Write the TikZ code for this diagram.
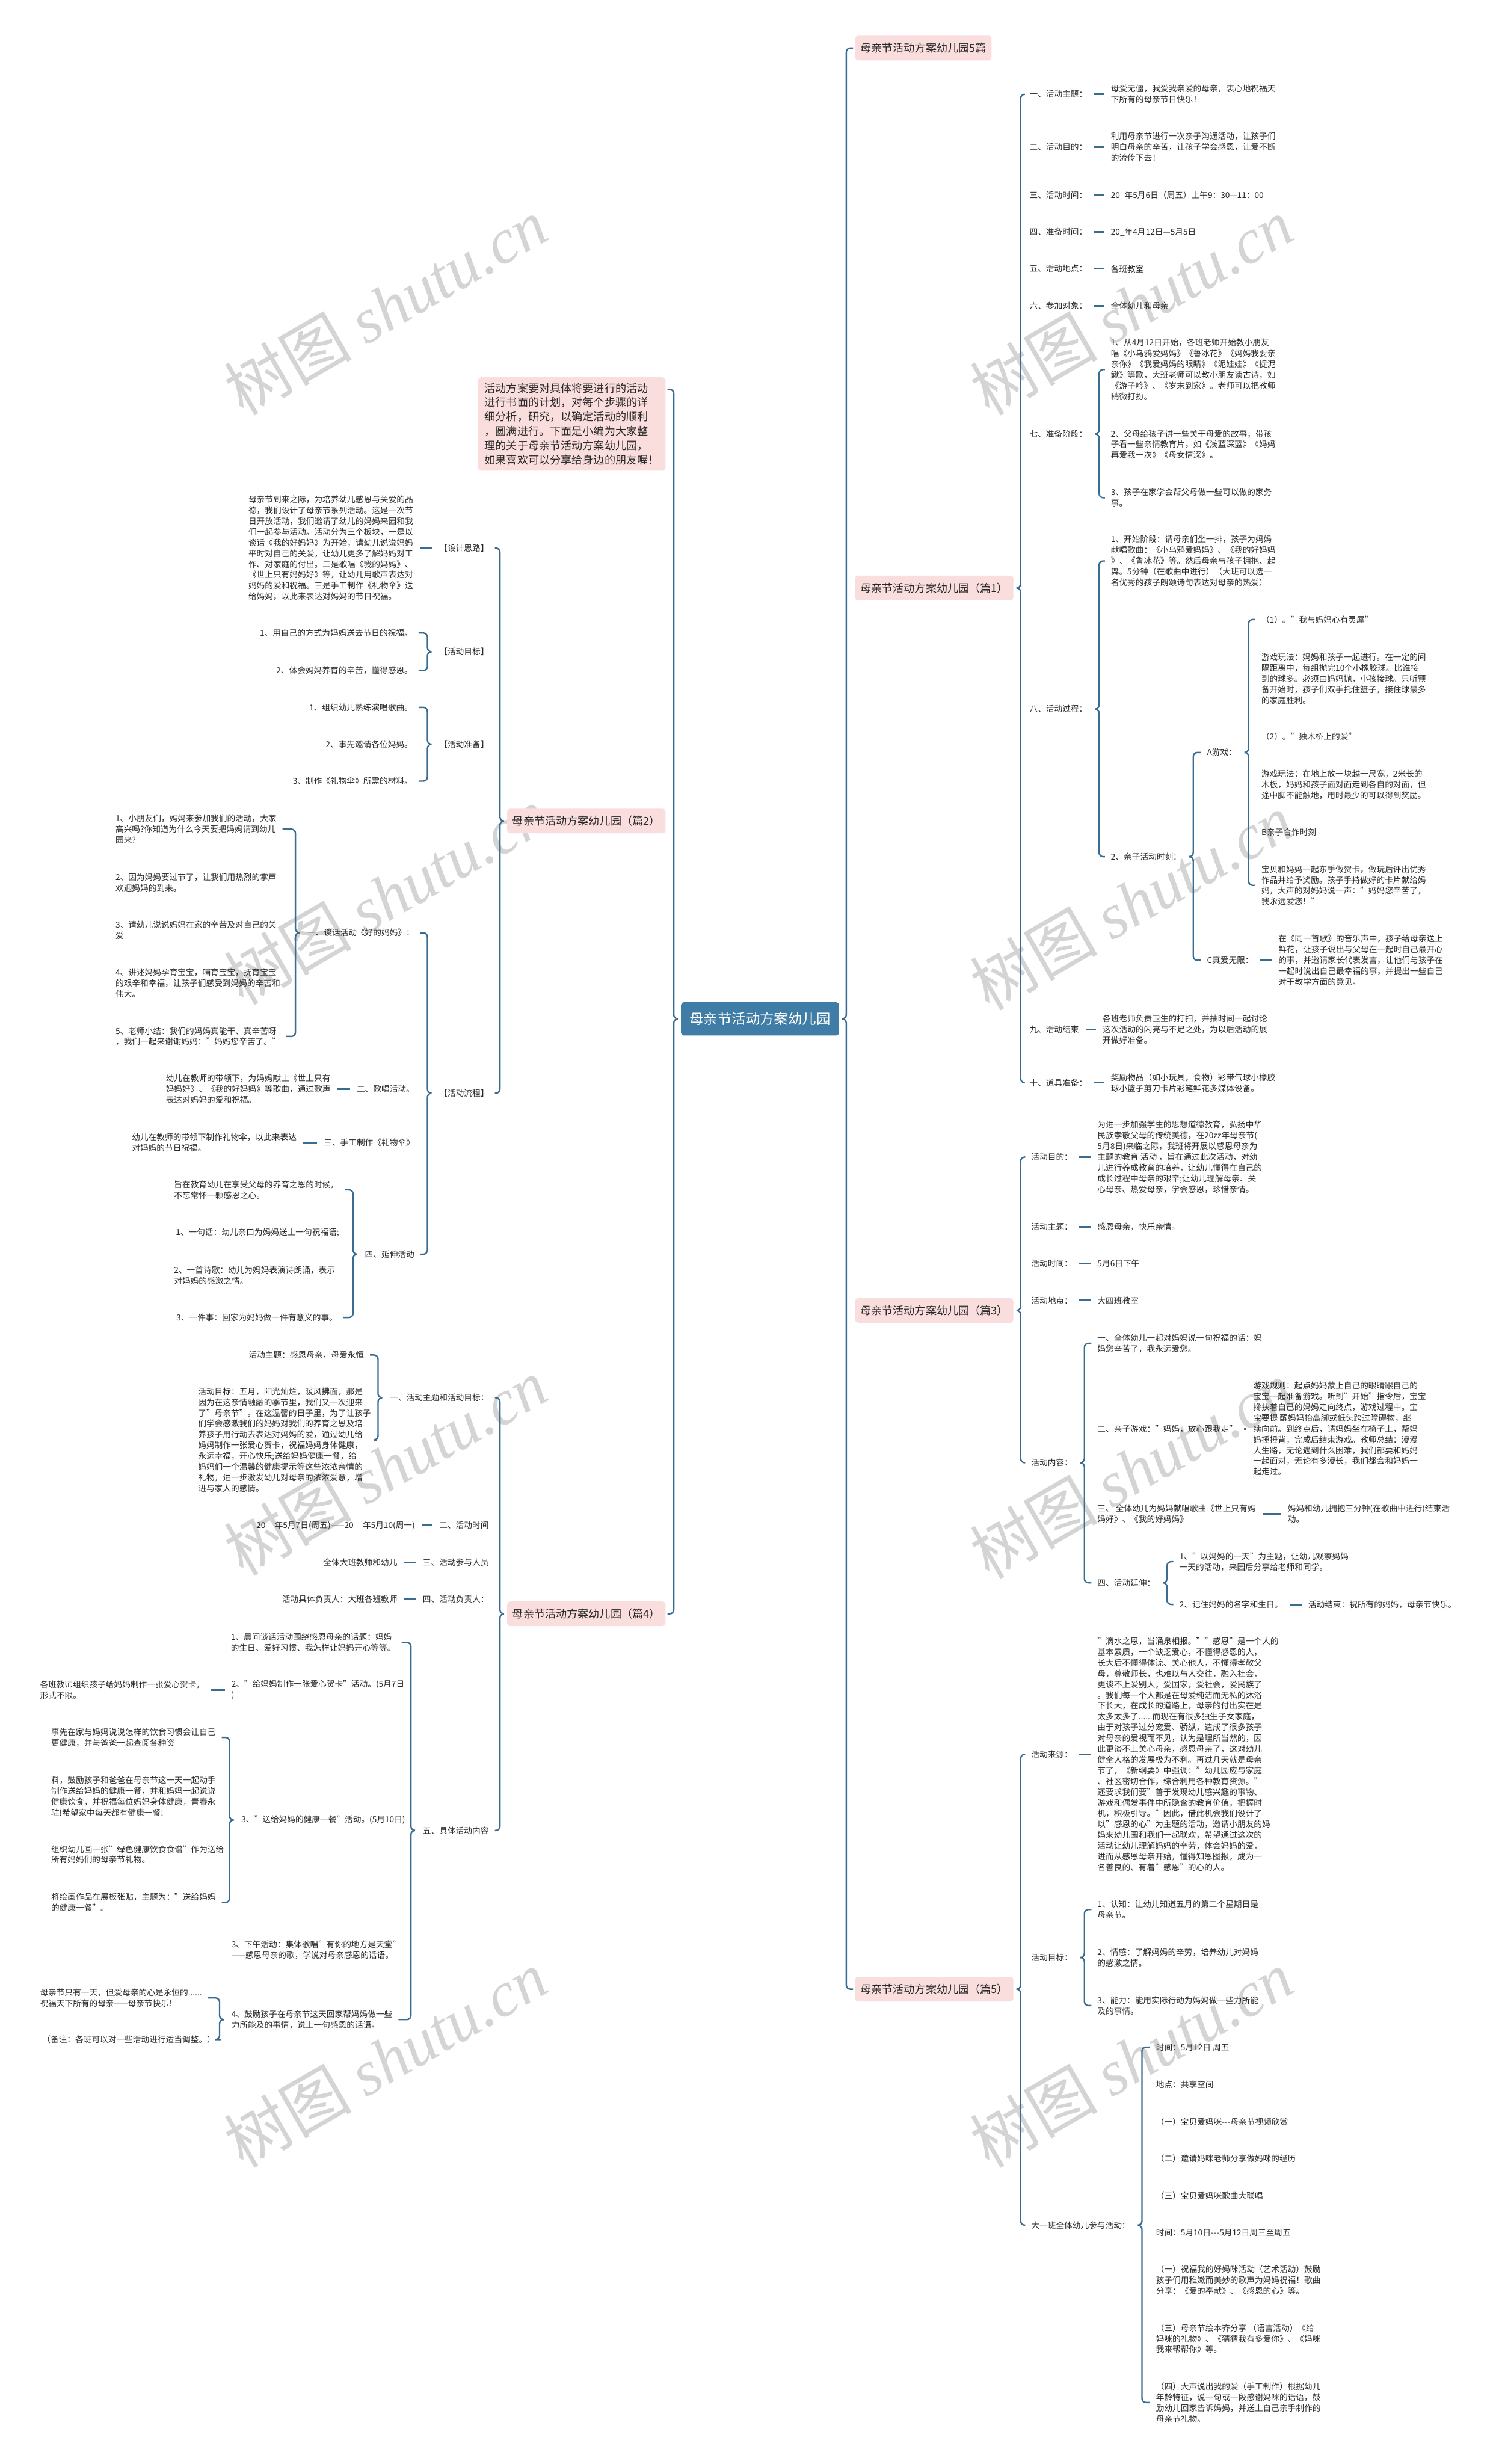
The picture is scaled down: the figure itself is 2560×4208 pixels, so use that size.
\documentclass[tikz,border=0pt]{standalone}
\usepackage{fontspec}
\setmainfont{Noto Sans CJK SC}
\newfontfamily\wmfont{Liberation Serif}
\usetikzlibrary{calc}
\definecolor{linec}{RGB}{56,108,145}
\definecolor{rootc}{RGB}{63,124,166}
\definecolor{pinkc}{RGB}{250,221,221}
\definecolor{textc}{RGB}{40,40,40}
\tikzset{
  forkgap/.store in=\fgap, forkgap=20,
  fork/.style={draw=linec, line width=1.4pt, rounded corners=0.14cm, shorten <=0.2cm, forkgap=20},
  boxfork/.style={fork, forkgap=12},
  rootfork/.style={fork, forkgap=12, shorten <=0.06cm},
  dashl/.style={draw=linec, line width=1.7pt, shorten <=0.22cm, shorten >=0.22cm},
  txt/.style={inner sep=0pt, align=left, text=textc, font=\fontsize{8}{10.47}\selectfont},
  rt/.style={txt, anchor=west},
  lt/.style={txt, anchor=east},
  lvl/.style={fill=pinkc, text=textc, rounded corners=0.1cm, inner xsep=0.18cm, inner ysep=0pt,
    minimum height=0.84cm, font=\fontsize{10.6}{13.9}\selectfont},
  root/.style={fill=rootc, text=white, rounded corners=0.1cm, inner sep=0pt, minimum width=5.4cm,
    minimum height=1.14cm, font=\fontsize{13.7}{16}\selectfont},
  intro/.style={fill=pinkc, text=textc, rounded corners=0.1cm, inner xsep=0.22cm, inner ysep=0.2cm,
    align=left, anchor=east, font=\fontsize{10.6}{13.9}\selectfont},
  wm/.style={text=black!17, rotate=30, inner sep=0pt, font=\fontsize{62}{62}\selectfont}
}
% brace from a parent to its first and last child
\newcommand{\forkR}[4][fork]{%
  \draw[#1] (#3.west) -| ($(#2.east)+(\fgap,0)$) -- ($(#2.east)+(\fgap-7,0)$);
  \draw[#1] (#4.west) -| ($(#2.east)+(\fgap,0)$) -- ($(#2.east)+(\fgap-7,0)$);
}
\newcommand{\forkL}[4][fork]{%
  \draw[#1] (#3.east) -| ($(#2.west)+(-\fgap,0)$) -- ($(#2.west)+(7-\fgap,0)$);
  \draw[#1] (#4.east) -| ($(#2.west)+(-\fgap,0)$) -- ($(#2.west)+(7-\fgap,0)$);
}
\begin{document}
\begin{tikzpicture}[x=0.02cm,y=-0.02cm]
\fill[white] (0,0) rectangle (2560,4208);
\useasboundingbox (0,0) rectangle (2560,4208);

% watermarks
\foreach \wx/\wy [count=\i] in {658/523,1932/523,658/1530,1932/1540,658/2505,1932/2510,658/3516,1932/3516}
  \node[wm] (wm\i) at (\wx,\wy) {树图 {\wmfont\itshape shutu.cn}};

% centre
\node[root] (root) at (1298,1740) {母亲节活动方案幼儿园};

% right branches
\node[lvl, anchor=west] (r0) at (1460,82) {母亲节活动方案幼儿园5篇};
\node[lvl, anchor=west] (r1) at (1460,1004) {母亲节活动方案幼儿园（篇1）};
\node[lvl, anchor=west] (r3) at (1460,2238) {母亲节活动方案幼儿园（篇3）};
\node[lvl, anchor=west] (r5) at (1460,3397) {母亲节活动方案幼儿园（篇5）};

% left branches
\node[intro] (intro) at (1137,724) {活动方案要对具体将要进行的活动\\进行书面的计划，对每个步骤的详\\细分析，研究，以确定活动的顺利\\，圆满进行。下面是小编为大家整\\理的关于母亲节活动方案幼儿园，\\如果喜欢可以分享给身边的朋友喔！};
\coordinate (introhk) at ($(intro.north east)+(0,21)$);
\node[lvl, anchor=east] (l2) at (1137,1402) {母亲节活动方案幼儿园（篇2）};
\node[lvl, anchor=east] (l4) at (1137,2756) {母亲节活动方案幼儿园（篇4）};

% ---- 篇1
\node[rt] (a1) at (1758,161) {一、活动主题：};
\node[rt] (a1t) at (1897,161) {母爱无僵，我爱我亲爱的母亲，衷心地祝福天\\下所有的母亲节日快乐！};
\node[rt] (a2) at (1758,251) {二、活动目的：};
\node[rt] (a2t) at (1897,251) {利用母亲节进行一次亲子沟通活动，让孩子们\\明白母亲的辛苦，让孩子学会感恩，让爱不断\\的流传下去！};
\node[rt] (a3) at (1758,333) {三、活动时间：};
\node[rt] (a3t) at (1897,333) {20\_年5月6日（周五）上午9：30—11：00};
\node[rt] (a4) at (1758,396) {四、准备时间：};
\node[rt] (a4t) at (1897,396) {20\_年4月12日—5月5日};
\node[rt] (a5) at (1758,459) {五、活动地点：};
\node[rt] (a5t) at (1897,459) {各班教室};
\node[rt] (a6) at (1758,522) {六、参加对象：};
\node[rt] (a6t) at (1897,522) {全体幼儿和母亲};
\node[rt] (a7) at (1758,741) {七、准备阶段：};
\node[rt] (a7a) at (1897,631) {1、从4月12日开始，各班老师开始教小朋友\\唱《小乌鸦爱妈妈》《鲁冰花》《妈妈我要亲\\亲你》《我爱妈妈的眼睛》《泥娃娃》《捉泥\\鳅》等歌，大班老师可以教小朋友读古诗，如\\《游子吟》、《岁末到家》。老师可以把教师\\稍微打扮。};
\node[rt] (a7b) at (1897,759) {2、父母给孩子讲一些关于母爱的故事，带孩\\子看一些亲情教育片，如《浅蓝深蓝》《妈妈\\再爱我一次》《母女情深》。};
\node[rt] (a7c) at (1897,850) {3、孩子在家学会帮父母做一些可以做的家务\\事。};
\node[rt] (a8) at (1758,1211) {八、活动过程：};
\node[rt] (a8a) at (1897,958) {1、开始阶段：请母亲们坐一排，孩子为妈妈\\献唱歌曲：《小乌鸦爱妈妈》、《我的好妈妈\\》、《鲁冰花》等。然后母亲与孩子拥抱、起\\舞。5分钟（在歌曲中进行）（大班可以选一\\名优秀的孩子朗颂诗句表达对母亲的热爱）};
\node[rt] (a8b) at (1897,1463) {2、亲子活动时刻：};
\node[rt] (ga) at (2061,1285) {A游戏：};
\node[rt] (g1) at (2154,1058) {（1）。"我与妈妈心有灵犀"};
\node[rt] (g2) at (2154,1159) {游戏玩法：妈妈和孩子一起进行。在一定的间\\隔距离中，每组抛完10个小橡胶球。比谁接\\到的球多。必须由妈妈抛，小孩接球。只听预\\备开始时，孩子们双手托住篮子，接住球最多\\的家庭胜利。};
\node[rt] (g3) at (2154,1258) {（2）。"独木桥上的爱"};
\node[rt] (g4) at (2154,1340) {游戏玩法：在地上放一块越一尺宽，2米长的\\木板，妈妈和孩子面对面走到各自的对面，但\\途中脚不能触地，用时最少的可以得到奖励。};
\node[rt] (g5) at (2154,1421) {B亲子合作时刻};
\node[rt] (g6) at (2154,1512) {宝贝和妈妈一起东手做贺卡，做玩后评出优秀\\作品并给予奖励。孩子手持做好的卡片献给妈\\妈，大声的对妈妈说一声："妈妈您辛苦了，\\我永远爱您！"};
\node[rt] (gc) at (2061,1640) {C真爱无限：};
\node[rt] (gct) at (2183,1640) {在《同一首歌》的音乐声中，孩子给母亲送上\\鲜花，让孩子说出与父母在一起时自己最开心\\的事，并邀请家长代表发言，让他们与孩子在\\一起时说出自己最幸福的事，并提出一些自己\\对于教学方面的意见。};
\node[rt] (a9) at (1758,1758) {九、活动结束};
\node[rt] (a9t) at (1883,1758) {各班老师负责卫生的打扫，并抽时间一起讨论\\这次活动的闪亮与不足之处，为以后活动的展\\开做好准备。};
\node[rt] (a10) at (1758,1849) {十、道具准备：};
\node[rt] (a10t) at (1897,1849) {奖励物品（如小玩具，食物）彩带气球小橡胶\\球小篮子剪刀卡片彩笔鲜花多媒体设备。};

% ---- 篇3
\node[rt] (b1) at (1761,1976) {活动目的：};
\node[rt] (b1t) at (1874,1976) {为进一步加强学生的思想道德教育，弘扬中华\\民族孝敬父母的传统美德，在20zz年母亲节(\\5月8日)来临之际，我班将开展以感恩母亲为\\主题的教育 活动 ，旨在通过此次活动，对幼\\儿进行养成教育的培养，让幼儿懂得在自己的\\成长过程中母亲的艰辛;让幼儿理解母亲、关\\心母亲、热爱母亲，学会感恩，珍惜亲情。};
\node[rt] (b2) at (1761,2095) {活动主题：};
\node[rt] (b2t) at (1874,2095) {感恩母亲，快乐亲情。};
\node[rt] (b3) at (1761,2158) {活动时间：};
\node[rt] (b3t) at (1874,2158) {5月6日下午};
\node[rt] (b4) at (1761,2221) {活动地点：};
\node[rt] (b4t) at (1874,2221) {大四班教室};
\node[rt] (b5) at (1761,2498) {活动内容：};
\node[rt] (b5a) at (1874,2294) {一、全体幼儿一起对妈妈说一句祝福的话：妈\\妈您辛苦了，我永远爱您。};
\node[rt] (b5b) at (1874,2440) {二、亲子游戏："妈妈，放心跟我走"};
\node[rt] (b5bt) at (2140,2440) {游戏规则：起点妈妈蒙上自己的眼睛跟自己的\\宝宝一起准备游戏。听到"开始"指令后，宝宝\\搀扶着自己的妈妈走向终点，游戏过程中。宝\\宝要提 醒妈妈抬高脚或低头跨过障碍物，继\\续向前。到终点后，请妈妈坐在椅子上，帮妈\\妈捶捶背，完成后结束游戏。教师总结：漫漫\\人生路，无论遇到什么困难，我们都要和妈妈\\一起面对，无论有多漫长，我们都会和妈妈一\\起走过。};
\node[rt] (b5c) at (1874,2585) {三、 全体幼儿为妈妈献唱歌曲《世上只有妈\\妈好》、《我的好妈妈》};
\node[rt] (b5ct) at (2199,2585) {妈妈和幼儿拥抱三分钟(在歌曲中进行)结束活\\动。};
\node[rt] (b5d) at (1874,2703) {四、活动延伸：};
\node[rt] (b5d1) at (2014,2667) {1、"以妈妈的一天"为主题，让幼儿观察妈妈\\一天的活动，来园后分享给老师和同学。};
\node[rt] (b5d2) at (2014,2740) {2、记住妈妈的名字和生日。};
\node[rt] (b5d2t) at (2234,2740) {活动结束：祝所有的妈妈，母亲节快乐。};

% ---- 篇5
\node[rt] (e1) at (1761,2996) {活动来源：};
\node[rt] (e1t) at (1874,2996) {"滴水之恩，当涌泉相报。""感恩"是一个人的\\基本素质，一个缺乏爱心，不懂得感恩的人，\\长大后不懂得体谅、关心他人，不懂得孝敬父\\母，尊敬师长，也难以与人交往，融入社会，\\更谈不上爱别人，爱国家，爱社会，爱民族了\\。我们每一个人都是在母爱纯洁而无私的沐浴\\下长大，在成长的道路上，母亲的付出实在是\\太多太多了......而现在有很多独生子女家庭，\\由于对孩子过分宠爱、骄纵，造成了很多孩子\\对母亲的爱视而不见，认为是理所当然的，因\\此更谈不上关心母亲，感恩母亲了，这对幼儿\\健全人格的发展极为不利。再过几天就是母亲\\节了，《新纲要》中强调："幼儿园应与家庭\\、社区密切合作，综合利用各种教育资源。"\\还要求我们要"善于发现幼儿感兴趣的事物、\\游戏和偶发事件中所隐含的教育价值，把握时\\机，积极引导。"因此，借此机会我们设计了\\以"感恩的心"为主题的活动，邀请小朋友的妈\\妈来幼儿园和我们一起联欢，希望通过这次的\\活动让幼儿理解妈妈的辛劳，体会妈妈的爱，\\进而从感恩母亲开始，懂得知恩图报，成为一\\名善良的、有着"感恩"的心的人。};
\node[rt] (e2) at (1761,3343) {活动目标：};
\node[rt] (e2a) at (1874,3261) {1、认知：让幼儿知道五月的第二个星期日是\\母亲节。};
\node[rt] (e2b) at (1874,3343) {2、情感：了解妈妈的辛劳，培养幼儿对妈妈\\的感激之情。};
\node[rt] (e2c) at (1874,3425) {3、能力：能用实际行动为妈妈做一些力所能\\及的事情。};
\node[rt] (e3) at (1761,3800) {大一班全体幼儿参与活动：};
\node[rt] (e3a) at (1974,3496) {时间：5月12日 周五};
\node[rt] (e3b) at (1974,3560) {地点：共享空间};
\node[rt] (e3c) at (1974,3624) {（一）宝贝爱妈咪-{}-{}-母亲节视频欣赏};
\node[rt] (e3d) at (1974,3686) {（二）邀请妈咪老师分享做妈咪的经历};
\node[rt] (e3e) at (1974,3750) {（三）宝贝爱妈咪歌曲大联唱};
\node[rt] (e3f) at (1974,3813) {时间：5月10日-{}-{}-5月12日周三至周五};
\node[rt] (e3g) at (1974,3894) {（一）祝福我的好妈咪活动（艺术活动）鼓励\\孩子们用稚嫩而美妙的歌声为妈妈祝福！歌曲\\分享：《爱的奉献》、《感恩的心》等。};
\node[rt] (e3h) at (1974,3994) {（三）母亲节绘本齐分享 （语言活动）《给\\妈咪的礼物》、《猜猜我有多爱你》、《妈咪\\我来帮帮你》等。};
\node[rt] (e3i) at (1974,4103) {（四）大声说出我的爱（手工制作）根据幼儿\\年龄特征，说一句或一段感谢妈咪的话语，鼓\\励幼儿回家告诉妈妈，并送上自己亲手制作的\\母亲节礼物。};

% ---- 篇2
\node[lt] (c1) at (835,936) {【设计思路】};
\node[rt] (c1t) at (424,936) {母亲节到来之际，为培养幼儿感恩与关爱的品\\德，我们设计了母亲节系列活动。这是一次节\\日开放活动，我们邀请了幼儿的妈妈来园和我\\们一起参与活动。活动分为三个板块，一是以\\谈话《我的好妈妈》为开始，请幼儿说说妈妈\\平时对自己的关爱，让幼儿更多了解妈妈对工\\作、对家庭的付出。二是歌唱《我的妈妈》、\\《世上只有妈妈好》等，让幼儿用歌声表达对\\妈妈的爱和祝福。三是手工制作《礼物伞》送\\给妈妈，以此来表达对妈妈的节日祝福。};
\node[lt] (c2) at (835,1113) {【活动目标】};
\node[lt] (c2a) at (705,1081) {1、用自己的方式为妈妈送去节日的祝福。};
\node[lt] (c2b) at (705,1145) {2、体会妈妈养育的辛苦，懂得感恩。};
\node[lt] (c3) at (835,1271) {【活动准备】};
\node[lt] (c3a) at (705,1208) {1、组织幼儿熟练演唱歌曲。};
\node[lt] (c3b) at (705,1271) {2、事先邀请各位妈妈。};
\node[lt] (c3c) at (705,1334) {3、制作《礼物伞》所需的材料。};
\node[lt] (c4) at (835,1867) {【活动流程】};
\node[lt] (d1) at (708,1593) {一、谈话活动《好的妈妈》：};
\node[rt] (d1a) at (197,1416) {1、小朋友们，妈妈来参加我们的活动，大家\\高兴吗?你知道为什么今天要把妈妈请到幼儿\\园来?};
\node[rt] (d1b) at (197,1507) {2、因为妈妈要过节了，让我们用热烈的掌声\\欢迎妈妈的到来。};
\node[rt] (d1c) at (197,1588) {3、请幼儿说说妈妈在家的辛苦及对自己的关\\爱};
\node[rt] (d1d) at (197,1679) {4、讲述妈妈孕育宝宝，哺育宝宝，抚育宝宝\\的艰辛和幸福，让孩子们感受到妈妈的辛苦和\\伟大。};
\node[rt] (d1e) at (197,1770) {5、老师小结：我们的妈妈真能干、真辛苦呀\\，我们一起来谢谢妈妈："妈妈您辛苦了。"};
\node[lt] (d2) at (708,1860) {二、歌唱活动。};
\node[rt] (d2t) at (283,1860) {幼儿在教师的带领下，为妈妈献上《世上只有\\妈妈好》、《我的好妈妈》等歌曲，通过歌声\\表达对妈妈的爱和祝福。};
\node[lt] (d3) at (708,1951) {三、手工制作《礼物伞》};
\node[rt] (d3t) at (225,1951) {幼儿在教师的带领下制作礼物伞，以此来表达\\对妈妈的节日祝福。};
\node[lt] (d4) at (708,2142) {四、延伸活动};
\node[rt] (d4a) at (297,2032) {旨在教育幼儿在享受父母的养育之恩的时候，\\不忘常怀一颗感恩之心。};
\node[rt] (d4b) at (300,2105) {1、一句话：幼儿亲口为妈妈送上一句祝福语;};
\node[rt] (d4c) at (297,2178) {2、一首诗歌：幼儿为妈妈表演诗朗诵，表示\\对妈妈的感激之情。};
\node[rt] (d4d) at (301,2250) {3、一件事：回家为妈妈做一件有意义的事。};

% ---- 篇4
\node[lt] (f1) at (835,2387) {一、活动主题和活动目标：};
\node[lt] (f1a) at (622,2314) {活动主题：感恩母亲，母爱永恒};
\node[rt] (f1b) at (338,2459) {活动目标：五月，阳光灿烂，暖风拂面，那是\\因为在这亲情融融的季节里，我们又一次迎来\\了"母亲节"。在这温馨的日子里，为了让孩子\\们学会感激我们的妈妈对我们的养育之恩及培\\养孩子用行动去表达对妈妈的爱，通过幼儿给\\妈妈制作一张爱心贺卡，祝福妈妈身体健康，\\永远幸福，开心快乐;送给妈妈健康一餐，给\\妈妈们一个温馨的健康提示等这些浓浓亲情的\\礼物，进一步激发幼儿对母亲的浓浓爱意，增\\进与家人的感情。};
\node[lt] (f2) at (835,2605) {二、活动时间};
\node[lt] (f2t) at (709,2605) {20\_\_年5月7日(周五)——20\_\_年5月10(周一)};
\node[lt] (f3) at (835,2668) {三、活动参与人员};
\node[lt] (f3t) at (679,2668) {全体大班教师和幼儿};
\node[lt] (f4) at (835,2731) {四、活动负责人：};
\node[lt] (f4t) at (679,2731) {活动具体负责人：大班各班教师};
\node[lt] (f5) at (835,3126) {五、具体活动内容};
\node[rt] (f5a) at (394,2805) {1、晨间谈话活动围绕感恩母亲的话题：妈妈\\的生日、爱好习惯、我怎样让妈妈开心等等。};
\node[rt] (f5b) at (395,2886) {2、"给妈妈制作一张爱心贺卡"活动。(5月7日\\)};
\node[rt] (f5bt) at (68,2886) {各班教师组织孩子给妈妈制作一张爱心贺卡，\\形式不限。};
\node[rt] (f5c) at (412,3108) {3、"送给妈妈的健康一餐"活动。(5月10日)};
\node[rt] (f5c1) at (87,2967) {事先在家与妈妈说说怎样的饮食习惯会让自己\\更健康，并与爸爸一起查阅各种资};
\node[rt] (f5c2) at (87,3068) {料，鼓励孩子和爸爸在母亲节这一天一起动手\\制作送给妈妈的健康一餐，并和妈妈一起说说\\健康饮食，并祝福每位妈妈身体健康，青春永\\驻!希望家中每天都有健康一餐!};
\node[rt] (f5c3) at (87,3167) {组织幼儿画一张"绿色健康饮食食谱"作为送给\\所有妈妈们的母亲节礼物。};
\node[rt] (f5c4) at (87,3249) {将绘画作品在展板张贴，主题为："送给妈妈\\的健康一餐"。};
\node[rt] (f5d) at (395,3330) {3、下午活动：集体歌唱"有你的地方是天堂"\\——感恩母亲的歌，学说对母亲感恩的话语。};
\node[rt] (f5e) at (395,3449) {4、鼓励孩子在母亲节这天回家帮妈妈做一些\\力所能及的事情，说上一句感恩的话语。};
\node[rt] (f5e1) at (68,3412) {母亲节只有一天，但爱母亲的心是永恒的......\\祝福天下所有的母亲——母亲节快乐!};
\node[rt] (f5e2) at (72,3483) {（备注：各班可以对一些活动进行适当调整。）};

% braces
\forkR[rootfork]{root}{r0}{r5}
\forkR[boxfork]{r1}{a1}{a10}
\forkR{a7}{a7a}{a7c}
\forkR{a8}{a8a}{a8b}
\forkR{a8b}{ga}{gc}
\forkR{ga}{g1}{g6}
\forkR[boxfork]{r3}{b1}{b5}
\forkR{b5}{b5a}{b5d}
\forkR{b5d}{b5d1}{b5d2}
\forkR[boxfork]{r5}{e1}{e3}
\forkR{e2}{e2a}{e2c}
\forkR{e3}{e3a}{e3i}
\forkL[rootfork]{root}{introhk}{l4}
\forkL[boxfork]{l2}{c1}{c4}
\forkL{c2}{c2a}{c2b}
\forkL{c3}{c3a}{c3c}
\forkL{c4}{d1}{d4}
\forkL{d1}{d1a}{d1e}
\forkL{d4}{d4a}{d4d}
\forkL[boxfork]{l4}{f1}{f5}
\forkL{f1}{f1a}{f1b}
\forkL{f5}{f5a}{f5e}
\forkL{f5c}{f5c1}{f5c4}
\forkL{f5e}{f5e1}{f5e2}

% single links
\foreach \p/\c in {a1/a1t,a2/a2t,a3/a3t,a4/a4t,a5/a5t,a6/a6t,a9/a9t,a10/a10t,gc/gct,
  b1/b1t,b2/b2t,b3/b3t,b4/b4t,b5b/b5bt,b5c/b5ct,b5d2/b5d2t,e1/e1t}
  \draw[dashl] (\p.east) -- (\p.east -| \c.west);
\foreach \p/\c in {c1/c1t,d2/d2t,d3/d3t,f2/f2t,f3/f3t,f4/f4t,f5b/f5bt}
  \draw[dashl] (\p.west) -- (\p.west -| \c.east);
\end{tikzpicture}
\end{document}
